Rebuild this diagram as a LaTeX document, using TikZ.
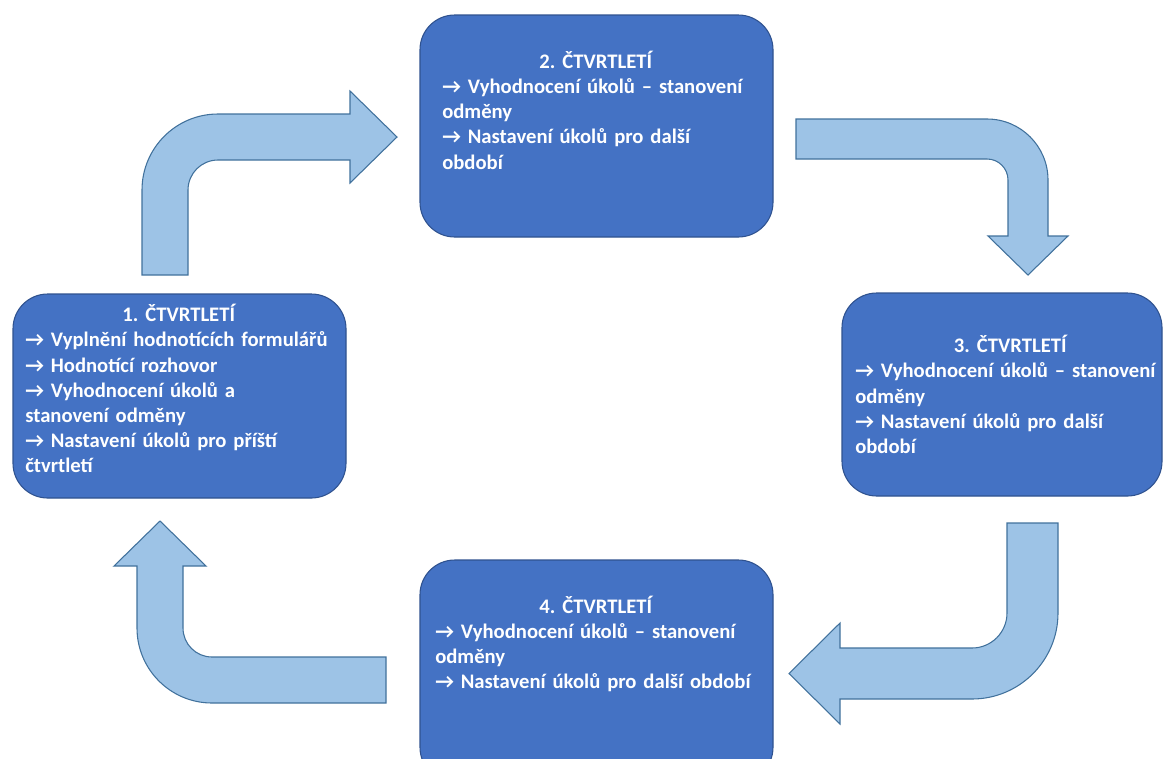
\documentclass[tikz,border=0pt]{standalone}
\usepackage{fontspec}
\setmainfont{Carlito}
\usepackage{tikz}
\usetikzlibrary{arrows.meta,positioning}
\definecolor{boxblue}{RGB}{68, 114, 196}
\definecolor{boxedge}{RGB}{47, 82, 143}
\definecolor{arrowblue}{RGB}{157, 195, 230}
\definecolor{arrowedge}{RGB}{65, 113, 156}
\frenchspacing
\hyphenpenalty=10000
\exhyphenpenalty=10000

\begin{document}
\begin{tikzpicture}[
    x=0.75pt, y=-0.75pt,
    quarter/.style={
      rectangle,
      rounded corners=26pt,
      draw=boxedge,
      line width=0.8pt,
      fill=boxblue,
      inner sep=0pt
    },
    qtext/.style={
      anchor=base west,
      align=left,
      text width=270pt,
      inner sep=0pt,
      text=white,
      font=\fontsize{15.5}{18.9}\selectfont\bfseries
    },
    bent/.style={fill=arrowblue, draw=arrowedge, line width=0.8pt, line join=miter}
  ]
    \useasboundingbox (0,0) rectangle (1163,758);

    % bent arrows between the quarters
    \draw[bent] (142,275) -- (142,190) arc[start angle=180, end angle=270, radius=76]
      -- (350,114) -- (350,91) -- (397,137) -- (350,183) -- (350,160) -- (218,160)
      arc[start angle=270, end angle=180, radius=30] -- (188,275) -- cycle;
    \draw[bent] (796,119) -- (987,119) arc[start angle=270, end angle=360, radius=61]
      -- (1048,236) -- (1068,236) -- (1028,275) -- (988,236) -- (1008,236) -- (1008,180)
      arc[start angle=0, end angle=-90, radius=21] -- (796,159) -- cycle;
    \draw[bent] (1007,523) -- (1058,523) -- (1058,613) arc[start angle=0, end angle=90, radius=86]
      -- (840,699) -- (840,724) -- (789,673.5) -- (840,623) -- (840,648) -- (972,648)
      arc[start angle=90, end angle=0, radius=35] -- cycle;
    \draw[bent] (386,657) -- (386,703) -- (212,703) arc[start angle=90, end angle=180, radius=75]
      -- (137,566) -- (114,566) -- (160,521) -- (206,566) -- (183,566) -- (183,628)
      arc[start angle=180, end angle=90, radius=29] -- cycle;

    % quarters
    \node[quarter, minimum width=249.75pt, minimum height=153pt] (q1) at (179.5,396) {};
    \node[quarter, minimum width=264.75pt, minimum height=166.5pt] (q2) at (596.5,126) {};
    \node[quarter, minimum width=240pt, minimum height=152.25pt] (q3) at (1002,394.5) {};
    \node[quarter, minimum width=264.75pt, minimum height=166.5pt] (q4) at (596.5,671) {};

    \node[qtext] (t1) at (25,321.7) {%
      \makebox[230.25pt]{1. ČTVRTLETÍ}\\
      → Vyplnění hodnotících formulářů\\
      → Hodnotící rozhovor\\
      → Vyhodnocení úkolů a\\
      stanovení odměny\\
      → Nastavení úkolů pro příští\\
      čtvrtletí};
    \node[qtext] (t2) at (442,68.3) {%
      \makebox[230.25pt]{2. ČTVRTLETÍ}\\
      → Vyhodnocení úkolů – stanovení\\
      odměny\\
      → Nastavení úkolů pro další\\
      období};
    \node[qtext] (t3) at (855,352.7) {%
      \makebox[232.5pt]{3. ČTVRTLETÍ}\\
      → Vyhodnocení úkolů – stanovení\\
      odměny\\
      → Nastavení úkolů pro další\\
      období};
    \node[qtext] (t4) at (435,613) {%
      \makebox[240.75pt]{4. ČTVRTLETÍ}\\
      → Vyhodnocení úkolů – stanovení\\
      odměny\\
      → Nastavení úkolů pro další období};
\end{tikzpicture}
\end{document}
